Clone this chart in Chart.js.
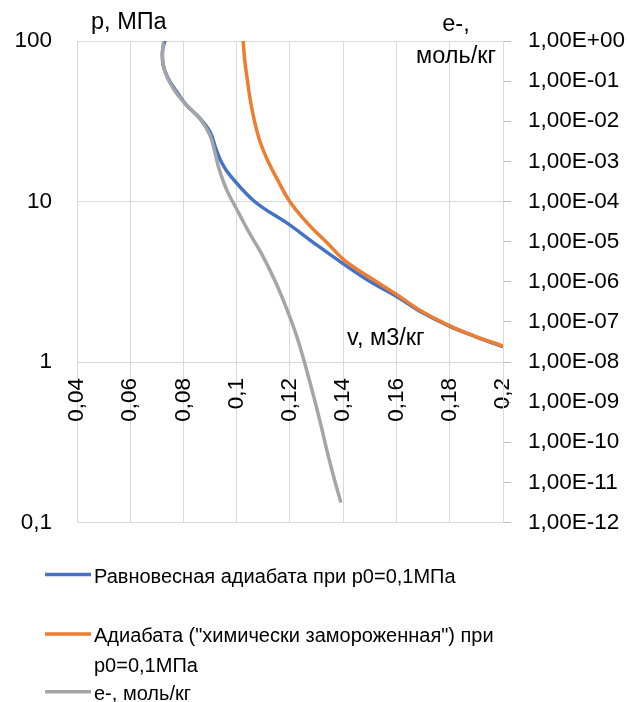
<!DOCTYPE html>
<html>
<head>
<meta charset="utf-8">
<script src="https://cdn.jsdelivr.net/npm/chart.js@4.4.1/dist/chart.umd.min.js"></script>
<style>
  html, body { margin: 0; padding: 0; background: #fff; }
  canvas { display: block; }
</style>
</head>
<body>
<canvas id="adiabatChart" width="630" height="702"></canvas>
<script>
// равновесная адиабата, p0 = 0,1 МПа
var volEquil   = [0.0730, 0.0721, 0.0724, 0.0742, 0.0774, 0.0811, 0.0861, 0.0899, 0.0924, 0.0943, 0.0974,
                  0.1067, 0.1192, 0.1293, 0.1399, 0.1499, 0.1599, 0.1686, 0.1796, 0.1896, 0.2000];
var pressEquil = [100, 86.6, 70.8, 58.6, 48.4, 39.9, 33.0, 27.3, 20.8, 17.5, 14.6,
                  10.0, 7.28, 5.47, 4.10, 3.18, 2.57, 2.08, 1.68, 1.44, 1.245];

// "химически замороженная" адиабата
var volFrozen   = [0.1024, 0.1030, 0.1040, 0.1051, 0.1066, 0.1086, 0.1116, 0.1155, 0.1199, 0.1267,
                   0.1342, 0.1405, 0.1499, 0.1599, 0.1686, 0.1796, 0.1896, 0.2000];
var pressFrozen = [100, 75.8, 56.9, 42.7, 32.0, 24.0, 18.0, 13.5, 10.0, 7.28,
                   5.47, 4.30, 3.37, 2.64, 2.11, 1.69, 1.445, 1.258];

// концентрация электронов, моль/кг
var volElectron = [0.0724, 0.0721, 0.0730, 0.0761, 0.0799, 0.0861, 0.0899, 0.0918, 0.0933, 0.0963,
                   0.0996, 0.1042, 0.1093, 0.1143, 0.1180, 0.1218, 0.1249, 0.1293, 0.1318, 0.1342,
                   0.1368, 0.1390];
var electrons   = [0.877, 0.371, 0.173, 0.0664, 0.0308, 0.0118, 0.00453, 0.00168, 6.7e-4, 1.89e-4,
                   7.2e-5, 1.9e-5, 5.0e-6, 1.08e-6, 2.84e-7, 6.1e-8, 1.32e-8, 1.1e-9, 2.36e-10, 5.1e-11,
                   1.1e-11, 3.4e-12];

var seriesNames = ['Равновесная адиабата при p0=0,1МПа',
                   'Адиабата ("химически замороженная") при p0=0,1МПа',
                   'e-, моль/кг'];

var volumeTicks   = [0.04, 0.06, 0.08, 0.1, 0.12, 0.14, 0.16, 0.18, 0.2];
var pressureTicks = [0.1, 1, 10, 100];
var electronTicks = [1e-12, 1e-11, 1e-10, 1e-9, 1e-8, 1e-7, 1e-6, 1e-5, 1e-4, 1e-3, 1e-2, 1e-1, 1];

var colors = { blue: '#4472C4', orange: '#ED7D31', gray: '#A5A5A5', grid: '#D9D9D9' };
var FONT = "'Liberation Sans', Arial, sans-serif";

function toPoints(xs, ys) {
    return xs.map(function (x, i) { return { x: x, y: ys[i] }; });
}

function comma(v) {
    return String(parseFloat(v.toFixed(4))).replace('.', ',');
}

function sci(v) {
    var e = Math.round(Math.log10(v));
    var s = e < 0 ? '-' : '+';
    var a = Math.abs(e);
    return '1,00E' + s + (a < 10 ? '0' : '') + a;
}

function fixTicks(list) {
    return function (scale) {
        scale.ticks = list.map(function (v) { return { value: v }; });
    };
}

// подписи осей и легенда
var decorations = {
    id: 'decorations',
    afterDraw: function (chart) {
        var ctx = chart.ctx;
        var area = chart.chartArea;
        ctx.save();
        ctx.fillStyle = '#000';
        ctx.font = '23.5px ' + FONT;
        ctx.textBaseline = 'alphabetic';

        ctx.textAlign = 'left';
        ctx.fillText('p, МПа', area.left + 14, area.top - 12);
        ctx.textAlign = 'center';
        ctx.fillText('e-,', area.right - 47, area.top - 10);
        ctx.fillText('моль/кг', area.right - 47, area.top + 22);
        ctx.textAlign = 'left';
        var y1 = chart.scales.y.getPixelForValue(1);
        ctx.fillText('v, м3/кг', 347, y1 - 17);

        var items = [
            { ds: 0, lines: ['Равновесная адиабата при p0=0,1МПа'], y: 574.5 },
            { ds: 1, lines: ['Адиабата ("химически замороженная") при', 'p0=0,1МПа'], y: 634 },
            { ds: 2, lines: ['e-, моль/кг'], y: 691.7 }
        ];
        ctx.font = '20px ' + FONT;
        items.forEach(function (it) {
            var ds = chart.data.datasets[it.ds];
            ctx.strokeStyle = ds.borderColor;
            ctx.lineWidth = ds.borderWidth;
            ctx.beginPath();
            ctx.moveTo(45, it.y);
            ctx.lineTo(91, it.y);
            ctx.stroke();
            it.lines.forEach(function (t, k) {
                ctx.fillText(t, 94, it.y + 8 + k * 30);
            });
        });
        ctx.restore();
    }
};

var ctx = document.getElementById('adiabatChart').getContext('2d');
var chart = new Chart(ctx, {
    type: 'line',
    data: {
        datasets: [{
            label: seriesNames[0],
            data: toPoints(volEquil, pressEquil),
            borderColor: colors.blue,
            borderWidth: 3.5,
            yAxisID: 'y',
            order: 2
        }, {
            label: seriesNames[1],
            data: toPoints(volFrozen, pressFrozen),
            borderColor: colors.orange,
            borderWidth: 3.5,
            yAxisID: 'y',
            order: 1
        }, {
            label: seriesNames[2],
            data: toPoints(volElectron, electrons),
            borderColor: colors.gray,
            borderWidth: 3.5,
            yAxisID: 'y2',
            order: 0
        }]
    },
    options: {
        responsive: false,
        animation: false,
        parsing: false,
        elements: {
            point: { radius: 0 },
            line: { tension: 0.4, fill: false, borderCapStyle: 'round', borderJoinStyle: 'round' }
        },
        layout: { padding: { top: 41, bottom: 179.5, left: 0, right: 0 } },
        plugins: {
            legend: { display: false },
            tooltip: { enabled: false }
        },
        scales: {
            x: {
                type: 'linear',
                position: { y: 1 },
                min: 0.04,
                max: 0.2,
                afterBuildTicks: fixTicks(volumeTicks),
                grid: { color: colors.grid, drawTicks: false },
                border: { color: colors.grid },
                ticks: {
                    color: '#000',
                    font: { family: FONT, size: 22.5 },
                    minRotation: 90,
                    maxRotation: 90,
                    padding: 16,
                    callback: function (v) { return comma(v); }
                }
            },
            y: {
                type: 'logarithmic',
                position: 'left',
                min: 0.1,
                max: 100,
                afterBuildTicks: fixTicks(pressureTicks),
                afterFit: function (s) { s.width = 77; },
                grid: { color: colors.grid, drawTicks: false },
                border: { display: false },
                ticks: {
                    color: '#000',
                    font: { family: FONT, size: 22.5 },
                    padding: 25,
                    callback: function (v) { return comma(v); }
                }
            },
            y2: {
                type: 'logarithmic',
                position: 'right',
                min: 1e-12,
                max: 1,
                afterBuildTicks: fixTicks(electronTicks),
                afterFit: function (s) { s.width = 127; },
                grid: { drawOnChartArea: false, drawTicks: true, tickLength: 8, color: '#BFBFBF' },
                border: { color: colors.grid },
                ticks: {
                    color: '#000',
                    font: { family: FONT, size: 22.5 },
                    padding: 17,
                    callback: function (v) { return sci(v); }
                }
            }
        }
    },
    plugins: [decorations]
});
</script>
</body>
</html>
